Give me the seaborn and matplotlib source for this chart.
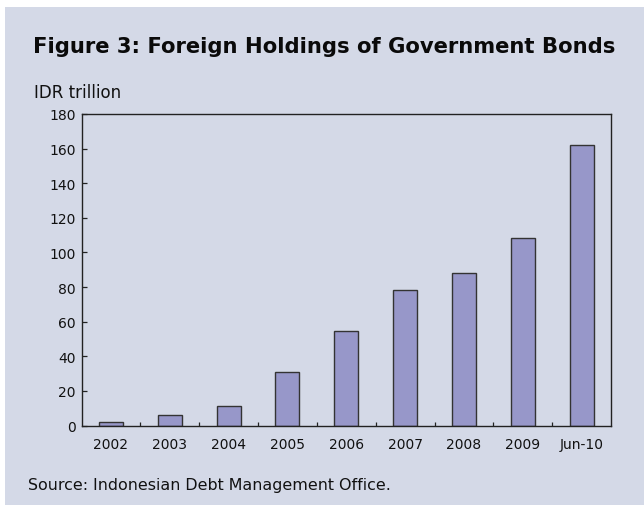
import matplotlib
matplotlib.use("Agg")
import matplotlib.pyplot as plt
import seaborn as sns
import pandas as pd
from matplotlib.patches import Rectangle
from matplotlib.ticker import FixedLocator

categories = ["2002", "2003", "2004", "2005", "2006", "2007", "2008", "2009", "Jun-10"]
values = [2.0, 6.2, 11.0, 30.9, 54.8, 78.3, 87.9, 108.1, 162.0]
yticks = [0, 20, 40, 60, 80, 100, 120, 140, 160, 180]

title = "Figure 3: Foreign Holdings of Government Bonds"
unit = "IDR trillion"
source = "Source: Indonesian Debt Management Office."

bg = "#d4d9e7"
bar_color = "#9797c9"
edge = "#333333"

sns.set_theme(style="white")
plt.rcParams["font.family"] = ["DejaVu Sans"]

df = pd.DataFrame({"period": categories, "value": values})

fig = plt.figure(figsize=(6.44, 5.06), dpi=100)
fig.patch.set_facecolor("white")
fig.patches.append(Rectangle((5 / 644, 0), 1, 1 - 8 / 506, transform=fig.transFigure,
                             facecolor=bg, edgecolor="none", zorder=-10))

ax = fig.add_axes([81.5 / 644, 1 - 426.5 / 506, (611 - 81.5) / 644, (426.5 - 115) / 506])
ax.set_facecolor(bg)

sns.barplot(data=df, x="period", y="value", order=categories, ax=ax,
            color=bar_color, edgecolor=edge, linewidth=1.0, width=0.41,
            saturation=1)

ax.set_xlim(-0.5, len(categories) - 0.5)
ax.set_ylim(0, 180)
ax.set_yticks(yticks)
ax.set_xlabel("")
ax.set_ylabel("")

for s in ax.spines.values():
    s.set_visible(True)
    s.set_color("#222222")
    s.set_linewidth(1.0)

ax.tick_params(axis="y", which="major", direction="in", length=3.5, width=0.9,
               color="#222222", labelsize=10, labelcolor="#111111", pad=4, left=True)
ax.tick_params(axis="x", which="major", length=0, labelsize=10, labelcolor="#111111", pad=8)
ax.xaxis.set_minor_locator(FixedLocator([i + 0.5 for i in range(len(categories) - 1)]))
ax.tick_params(axis="x", which="minor", direction="in", length=3, width=0.9,
               color="#222222", bottom=True)

fig.text(33 / 644, 1 - 47 / 506, title, fontsize=15.2, fontweight="bold",
         color="#0a0a0a", va="center", ha="left")
fig.text(34 / 644, 1 - 93 / 506, unit, fontsize=12, color="#111111", va="center", ha="left")
fig.text(28 / 644, 1 - 486 / 506, source, fontsize=11.4, color="#111111", va="center", ha="left")

fig.savefig("out.png", dpi=100, facecolor=fig.get_facecolor())
